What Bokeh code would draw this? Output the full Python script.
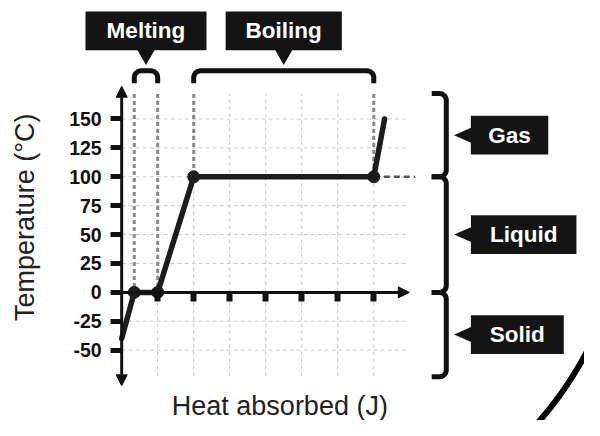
import numpy as np
from bokeh.plotting import figure
from bokeh.models import Range1d, FixedTicker, Arrow, NormalHead, Label
from bokeh.embed import file_html
from bokeh.resources import INLINE
from bokeh.core.properties import value

# ---------------- data ----------------
heat = [0.0, 0.35, 1.0, 2.0, 7.0, 7.3]          # J (arbitrary units)
temp = [-40, 0, 0, 100, 100, 150]               # °C
turn_heat = [0.35, 1.0, 2.0, 7.0]
turn_temp = [0, 0, 100, 100]
y_ticks = [-50, -25, 0, 25, 50, 75, 100, 125, 150]
x_ticks = [1, 2, 3, 4, 5, 6, 7]
phases = ["Gas", "Liquid", "Solid"]
phase_lo = [100, 0, -73]
phase_hi = [172, 100, 0]
transitions = ["Melting", "Boiling"]
trans_start = [0.35, 2.0]
trans_end = [1.0, 7.0]
trans_temp = [0, 100]
x_title = "Heat absorbed (J)"
y_title = "Temperature (°C)"

# ---------------- layout ----------------
W, H = 584, 420                 # figure size (fits 600x436 window with 8px margin)
RW, RH = 600.0, 436.0           # design canvas in layout pixels
S = 0.968                       # layout px -> screen px (for screen-unit sizes)
OX, OY = 124.5, 303.0           # layout position of (0 J, 0 °C)
KX, KY = 37.0, 1.2              # layout pixels per J and per °C
FONT = "Liberation Sans"
INK = "#1c1c1c"
DARK = "#111111"


def hx(sx):
    return (sx - OX) / KX


def ty(sy):
    return (OY - sy) / KY


def sx_of(x):
    return OX + x * KX


def sy_of(t):
    return OY - t * KY


def px(v):
    return v * S


p = figure(width=W, height=H, output_backend="svg", toolbar_location=None,
           x_range=Range1d(hx(0), hx(RW)), y_range=Range1d(ty(RH), ty(0)),
           min_border=0, min_border_left=0, min_border_right=0,
           min_border_top=0, min_border_bottom=0)
p.outline_line_color = None
p.background_fill_color = "white"
p.border_fill_color = "white"
p.xgrid.visible = False
p.ygrid.visible = False

# ---- light dashed grid ----
hy = [t for t in y_ticks if t != 0]
p.segment(x0=[0] * len(hy), y0=hy, x1=[hx(418)] * len(hy), y1=hy,
          line_color="#cacaca", line_width=1, line_dash="4 3")
p.segment(x0=x_ticks, y0=[ty(390)] * len(x_ticks), x1=x_ticks, y1=[ty(97)] * len(x_ticks),
          line_color="#cacaca", line_width=1, line_dash="4 3")

# ---- dotted phase-change guides ----
p.segment(x0=turn_heat, y0=[ty(97)] * len(turn_heat), x1=turn_heat, y1=turn_temp,
          line_color="#8a8a8a", line_width=3, line_dash="4 3")
p.segment(x0=[trans_end[1]], y0=[trans_temp[1]], x1=[hx(426)], y1=[trans_temp[1]],
          line_color="#555555", line_width=2.5, line_dash="6 4")

# ---- axes ----
p.yaxis.fixed_location = 0
p.yaxis.ticker = FixedTicker(ticks=y_ticks)
p.yaxis.major_label_overrides = {t: str(t) for t in y_ticks}
p.yaxis.axis_line_color = None
p.yaxis.major_tick_in = 0
p.yaxis.major_tick_out = 11
p.yaxis.major_tick_line_width = 5
p.yaxis.major_tick_line_color = DARK
p.yaxis.minor_tick_line_color = None
p.yaxis.major_label_text_font = FONT
p.yaxis.major_label_text_font_style = "bold"
p.yaxis.major_label_text_font_size = "19.5px"
p.yaxis.major_label_text_color = DARK
p.yaxis.major_label_standoff = 9

p.xaxis.fixed_location = 0
p.xaxis.ticker = FixedTicker(ticks=x_ticks)
p.xaxis.major_label_overrides = {t: "" for t in x_ticks}
p.xaxis.axis_line_color = None
p.xaxis.major_tick_in = 0
p.xaxis.major_tick_out = 9
p.xaxis.major_tick_line_width = 6
p.xaxis.major_tick_line_color = DARK
p.xaxis.minor_tick_line_color = None


def head():
    return NormalHead(size=11, fill_color=DARK, line_color=DARK, line_width=1)


p.add_layout(Arrow(start=head(), end=head(),
                   x_start=0, y_start=ty(400), x_end=0, y_end=ty(89),
                   line_width=3, line_color=DARK))
p.add_layout(Arrow(end=head(), x_start=0, y_start=0, x_end=hx(420), y_end=0,
                   line_width=3, line_color=DARK))

# ---- heating curve ----
p.line(heat, temp, line_width=5.5, line_color=INK, line_join="round", line_cap="round")
p.scatter(turn_heat, turn_temp, size=12, fill_color=INK, line_color=INK)


# ---- braces ----
def arc_pts(cx, cy, r, a0, a1, n=8):
    a = np.radians(np.linspace(a0, a1, n))
    return list(cx + r * np.cos(a)), list(cy + r * np.sin(a))


def right_brace(sy_top, sy_bot, sx_line=458.0, sx_hook=443.0, r=7.0):
    xs, ys = [sx_hook], [sy_top]
    ax, ay = arc_pts(sx_line - r, sy_top + r, r, -90, 0)
    xs += ax; ys += ay
    ax, ay = arc_pts(sx_line - r, sy_bot - r, r, 0, 90)
    xs += ax; ys += ay
    xs.append(sx_hook); ys.append(sy_bot)
    return [hx(v) for v in xs], [ty(v) for v in ys]


def top_brace(sx1, sx2, sy_top=73.0, sy_leg=86.0, r=7.0):
    xs, ys = [sx1], [sy_leg]
    ax, ay = arc_pts(sx1 + r, sy_top + r, r, 180, 270)
    xs += ax; ys += ay
    ax, ay = arc_pts(sx2 - r, sy_top + r, r, 270, 360)
    xs += ax; ys += ay
    xs.append(sx2); ys.append(sy_leg)
    return [hx(v) for v in xs], [ty(v) for v in ys]


bx, by = [], []
for lo, hi in zip(phase_lo, phase_hi):
    a, b = right_brace(sy_of(hi), sy_of(lo))
    bx.append(a); by.append(b)
for s, e in zip(trans_start, trans_end):
    a, b = top_brace(sx_of(s), sx_of(e))
    bx.append(a); by.append(b)
p.multi_line(bx, by, line_color=DARK, line_width=5, line_join="round", line_cap="butt")

# ---- label boxes: transitions (top) ----
BOX = "#141414"
t_cx = [(s + e) / 2 for s, e in zip(trans_start, trans_end)]
t_w = [px(125), px(120)]
p.rect(x=t_cx, y=[ty(31.5)] * 2, width=t_w, height=px(40),
       width_units="screen", height_units="screen", fill_color=BOX, line_color=None)
p.patches([[c - 9 / KX, c + 9 / KX, c] for c in t_cx],
          [[ty(51), ty(51), ty(67)] for _ in t_cx], fill_color=BOX, line_color=None)
p.text(x=t_cx, y=[ty(31.5)] * 2, text=transitions, text_align="center", text_baseline="middle",
       text_font=value(FONT), text_font_style="bold", text_font_size="22.5px", text_color="white")

# ---- label boxes: phases (right) ----
p_wl = [80, 109, 96]
p_cy = [(lo + hi) / 2 for lo, hi in zip(phase_lo, phase_hi)]
p_cx = [hx(483 + w / 2) for w in p_wl]
p.rect(x=p_cx, y=p_cy, width=[px(w) for w in p_wl], height=px(40),
       width_units="screen", height_units="screen", fill_color=BOX, line_color=None)
p.patches([[hx(484), hx(484), hx(466)] for _ in p_cy],
          [[c + 8 / KY, c - 8 / KY, c] for c in p_cy], fill_color=BOX, line_color=None)
p.text(x=p_cx, y=p_cy, text=phases, text_align="center", text_baseline="middle",
       text_font=value(FONT), text_font_style="bold", text_font_size="22.5px", text_color="white")

# ---- axis titles ----
p.add_layout(Label(x=hx(25.5), y=ty(225), text=y_title, angle=np.pi / 2,
                   text_align="center", text_baseline="middle",
                   text_font=FONT, text_font_size="27px", text_color="#222222"))
p.add_layout(Label(x=hx(287), y=ty(421), text=x_title,
                   text_align="center", text_baseline="alphabetic",
                   text_font=FONT, text_font_size="27px", text_color="#222222"))

# ---- decorative frame arc (bottom right) ----
p.arc(x=[hx(276.5)], y=[ty(192)], radius=px(370), radius_units="screen",
      start_angle=-0.95, end_angle=-0.3, line_width=6, line_color="#000000")

open("out.html", "w").write(file_html(p, INLINE))
